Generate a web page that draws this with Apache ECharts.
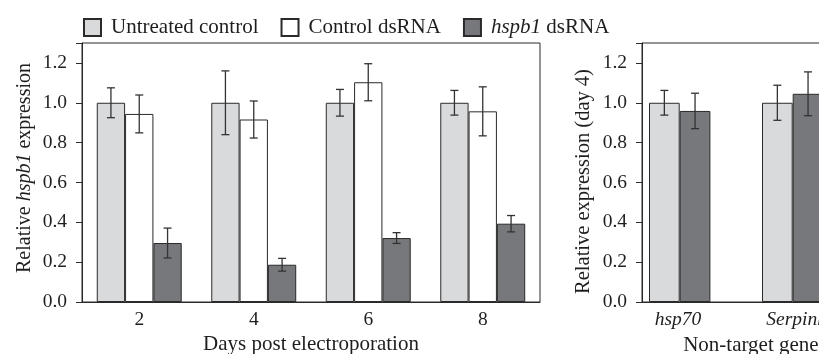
<!DOCTYPE html>
<html>
<head>
<meta charset="utf-8">
<title>hspb1 knockdown</title>
<style>
  html, body { margin: 0; padding: 0; background: #fff; }
  #chart { width: 819px; height: 354px; }
</style>
<script src="https://cdn.jsdelivr.net/npm/echarts@6/dist/echarts.min.js"></script>
</head>
<body>
<div id="chart"></div>
<script>
// left panel: days post electroporation
var days = ['2', '4', '6', '8'];
var untreated = [1.0, 1.0, 1.0, 1.0];
var untreatedErr = [0.075, 0.16, 0.067, 0.062];
var ctrlDs = [0.944, 0.916, 1.103, 0.957];
var ctrlDsErr = [0.095, 0.093, 0.093, 0.123];
var hspDs = [0.296, 0.187, 0.321, 0.393];
var hspDsErr = [0.075, 0.032, 0.027, 0.041];

// right panel: non-target genes at day 4
var genes = ['hsp70', 'Serpinh1'];
var geneUntreated = [1.0, 1.0];
var geneUntreatedErr = [0.062, 0.088];
var geneHsp = [0.959, 1.045];
var geneHspErr = [0.089, 0.11];

var yTicks = [0, 0.2, 0.4, 0.6, 0.8, 1.0, 1.2];

var FONT = 'Liberation Serif';
var LIGHT = '#d9dadc', WHITE = '#ffffff', DARK = '#77787b', EDGE = '#2a2a2a';
var INK = '#1e1e1e';

// bar geometry
var leftGap = 0.258;          // barCategoryGap of left panel
var rBar = 30.7, rPad = 37.6; // right panel bar width and empty slot
var geneLabelShift = [41, 20]; // right padding that pulls gene labels under their bars

var italic = { i: { fontStyle: 'italic', fontFamily: FONT, fontSize: 20, color: INK } };
var italicLegend = { i: { fontStyle: 'italic', fontFamily: FONT, fontSize: 21, color: INK } };

function errSeries(xi, yi, vals, errs, offsetFn) {
    var d = vals.map(function (v, k) { return [k, v - errs[k], v + errs[k]]; });
    return {
        type: 'custom', xAxisIndex: xi, yAxisIndex: yi, silent: true, z: 5,
        data: d,
        renderItem: function (params, api) {
            var band = api.size([1, 0])[0];
            var c = api.coord([api.value(0), 0])[0] + offsetFn(band);
            var lo = api.coord([api.value(0), api.value(1)])[1];
            var hi = api.coord([api.value(0), api.value(2)])[1];
            var cap = 4;
            var st = { stroke: '#333', lineWidth: 1.3 };
            return { type: 'group', children: [
                { type: 'line', shape: { x1: c, y1: lo, x2: c, y2: hi }, style: st },
                { type: 'line', shape: { x1: c - cap, y1: lo, x2: c + cap, y2: lo }, style: st },
                { type: 'line', shape: { x1: c - cap, y1: hi, x2: c + cap, y2: hi }, style: st }
            ] };
        }
    };
}

function leftOffset(i) {
    return function (band) {
        var gw = band * (1 - leftGap), bw = gw / 3;
        return -gw / 2 + (i + 0.5) * bw;
    };
}
function rightOffset(i) {
    return function (band) {
        var gw = 2 * rBar + rPad;
        return -gw / 2 + (i + 0.5) * rBar;
    };
}

var yAxisBase = {
    type: 'value', min: 0, max: 1.3, interval: 0.2,
    axisLine: { show: true, lineStyle: { color: EDGE } },
    axisTick: { show: true, length: 6, lineStyle: { color: EDGE } },
    splitLine: { show: false },
    nameLocation: 'middle',
    nameMoveOverlap: false,
    axisLabel: {
        fontFamily: FONT, fontSize: 19.5, color: INK, margin: 15,
        formatter: function (v) {
            var t = yTicks.filter(function (x) { return Math.abs(x - v) < 1e-6; });
            return t.length ? t[0].toFixed(1) : '';
        }
    }
};

function barSeries(name, xi, yi, data, color, extra) {
    var s = {
        name: name, type: 'bar', xAxisIndex: xi, yAxisIndex: yi, data: data,
        itemStyle: { color: color, borderColor: EDGE, borderWidth: 1 },
        barGap: '0%'
    };
    for (var k in extra) s[k] = extra[k];
    return s;
}

var chart = echarts.init(document.getElementById('chart'));
var option = {
    animation: false,
    textStyle: { fontFamily: FONT },
    legend: {
        data: ['Untreated control', 'Control dsRNA', 'hspb1 dsRNA'],
        left: 83, top: 17, padding: 0, itemWidth: 17, itemHeight: 17, itemGap: 22,
        icon: 'rect',
        textStyle: { fontFamily: FONT, fontSize: 21, color: INK, rich: italicLegend, padding: [0, 0, 0, 5] },
        formatter: function (n) { return n === 'hspb1 dsRNA' ? '{i|hspb1} dsRNA' : n; }
    },
    grid: [
        { left: 82, top: 43, width: 458, height: 259, show: true, borderColor: EDGE, borderWidth: 1, outerBoundsMode: 'none' },
        { left: 642, top: 43, width: 226, height: 259, show: true, borderColor: EDGE, borderWidth: 1, outerBoundsMode: 'none' }
    ],
    xAxis: [
        {
            type: 'category', gridIndex: 0, data: days,
            axisLine: { lineStyle: { color: EDGE } }, axisTick: { show: false },
            axisLabel: { fontFamily: FONT, fontSize: 19.5, color: INK, margin: 8 },
            name: 'Days post electroporation', nameLocation: 'middle', nameGap: 32, nameMoveOverlap: false,
            nameTextStyle: { fontFamily: FONT, fontSize: 21, color: INK }
        },
        {
            type: 'category', gridIndex: 1,
            data: genes.map(function (g, i) {
                return { value: g, textStyle: { padding: [0, geneLabelShift[i], 0, 0] } };
            }),
            axisLine: { lineStyle: { color: EDGE } }, axisTick: { show: false },
            axisLabel: { fontFamily: FONT, fontSize: 19.5, fontStyle: 'italic', color: INK, margin: 8 },
            name: 'Non-target genes', nameLocation: 'middle', nameGap: 33, nameMoveOverlap: false,
            nameTextStyle: { fontFamily: FONT, fontSize: 21, color: INK }
        }
    ],
    yAxis: [
        Object.assign({}, yAxisBase, {
            gridIndex: 0, name: 'Relative {i|hspb1} expression', nameGap: 47,
            nameTextStyle: { fontFamily: FONT, fontSize: 20, color: INK, rich: italic, padding: [0, 0, 0, 9] }
        }),
        Object.assign({}, yAxisBase, {
            gridIndex: 1, name: 'Relative expression (day 4)', nameGap: 48,
            nameTextStyle: { fontFamily: FONT, fontSize: 20.5, color: INK, padding: [0, 18, 0, 0] }
        })
    ],
    series: [
        barSeries('Untreated control', 0, 0, untreated, LIGHT, { barCategoryGap: (leftGap * 100) + '%' }),
        barSeries('Control dsRNA', 0, 0, ctrlDs, WHITE, {}),
        barSeries('hspb1 dsRNA', 0, 0, hspDs, DARK, {}),
        errSeries(0, 0, untreated, untreatedErr, leftOffset(0)),
        errSeries(0, 0, ctrlDs, ctrlDsErr, leftOffset(1)),
        errSeries(0, 0, hspDs, hspDsErr, leftOffset(2)),

        barSeries('Untreated control', 1, 1, geneUntreated, LIGHT, { barWidth: rBar }),
        barSeries('hspb1 dsRNA', 1, 1, geneHsp, DARK, { barWidth: rBar }),
        // empty slot so the pair sits left of the category centre
        barSeries('pad', 1, 1, genes.map(function () { return '-'; }), 'rgba(0,0,0,0)', { barWidth: rPad }),
        errSeries(1, 1, geneUntreated, geneUntreatedErr, rightOffset(0)),
        errSeries(1, 1, geneHsp, geneHspErr, rightOffset(1))
    ]
};
chart.setOption(option);
</script>
</body>
</html>
